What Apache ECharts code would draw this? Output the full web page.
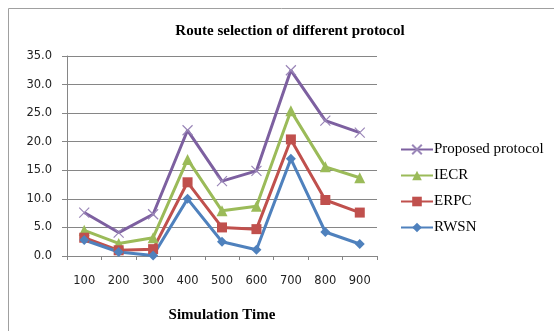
<!DOCTYPE html>
<html><head><meta charset="utf-8">
<script src="https://cdn.jsdelivr.net/npm/echarts@6/dist/echarts.min.js"></script>
<style>html,body{margin:0;padding:0;background:#fff}#c{width:554px;height:331px}</style>
</head><body><div id="c"></div>
<script>
const categories = ['100','200','300','400','500','600','700','800','900'];
const proposed = [7.6, 4.1, 7.3, 22.0, 13.1, 14.9, 32.5, 23.7, 21.6];
const iecr = [4.5, 2.2, 3.2, 16.9, 7.9, 8.7, 25.4, 15.6, 13.7];
const erpc = [3.2, 1.0, 1.2, 12.9, 5.0, 4.7, 20.4, 9.8, 7.6];
const rwsn = [2.8, 0.7, 0.1, 10.0, 2.5, 1.1, 17.0, 4.2, 2.1];

const chart = echarts.init(document.getElementById('c'), null, {renderer:'canvas'});
const serif = 'Liberation Serif';
const sans = 'DejaVu Sans';
function mk(name, data, color, symbol, size, extra){
  return Object.assign({
    name, type:'line', data, symbol, symbolSize:size,
    lineStyle:{color, width:3}, itemStyle:{color},
    emphasis:{disabled:true}, animation:false
  }, extra||{});
}
chart.setOption({
  animation:false,
  graphic:[{type:'rect', shape:{x:8.5,y:8.5,width:700,height:500}, style:{fill:'none',stroke:'#a0a0a0',lineWidth:1}, silent:true}],
  title:{text:'Route selection of different protocol', left:285, top:19, textAlign:'center',
    textStyle:{fontFamily:serif, fontWeight:'bold', fontSize:15, color:'#000'}},
  grid:{left:67, right:177, top:56, bottom:75},
  legend:{orient:'vertical', left:400, top:142, padding:0, itemWidth:32, itemHeight:12, itemGap:11,
    textStyle:{fontFamily:serif, fontSize:15, color:'#000', padding:[0,0,0,-4]},
    data:['Proposed protocol','IECR','ERPC','RWSN']},
  xAxis:{type:'category', data:categories, boundaryGap:true,
    name:'Simulation Time', nameLocation:'middle', nameGap:52,
    nameTextStyle:{fontFamily:serif, fontWeight:'bold', fontSize:15, color:'#000'},
    axisLine:{lineStyle:{color:'#868686'}},
    axisTick:{show:true, length:4, lineStyle:{color:'#868686'}, inside:false},
    axisLabel:{fontFamily:sans, fontSize:11.5, color:'#222', margin:19}},
  yAxis:{type:'value', min:0, max:35, interval:5,
    axisLine:{show:true, lineStyle:{color:'#868686'}},
    axisTick:{show:true, length:5, lineStyle:{color:'#868686'}},
    axisLabel:{fontFamily:sans, fontSize:11.5, color:'#222', margin:15, formatter:v=>v.toFixed(1)},
    splitLine:{lineStyle:{color:'#868686', width:1}}},
  series:[
    mk('Proposed protocol', proposed, '#7D60A0', 'path://M0,0L10,10M10,0L0,10', 10,
      {itemStyle:{color:'#7D60A0', borderColor:'#9a86b8', borderWidth:1.2}}),
    mk('IECR', iecr, '#9BBB59', 'triangle', 11),
    mk('ERPC', erpc, '#C0504D', 'rect', 10),
    mk('RWSN', rwsn, '#4F81BD', 'diamond', 10)
  ]
});
</script></body></html>
